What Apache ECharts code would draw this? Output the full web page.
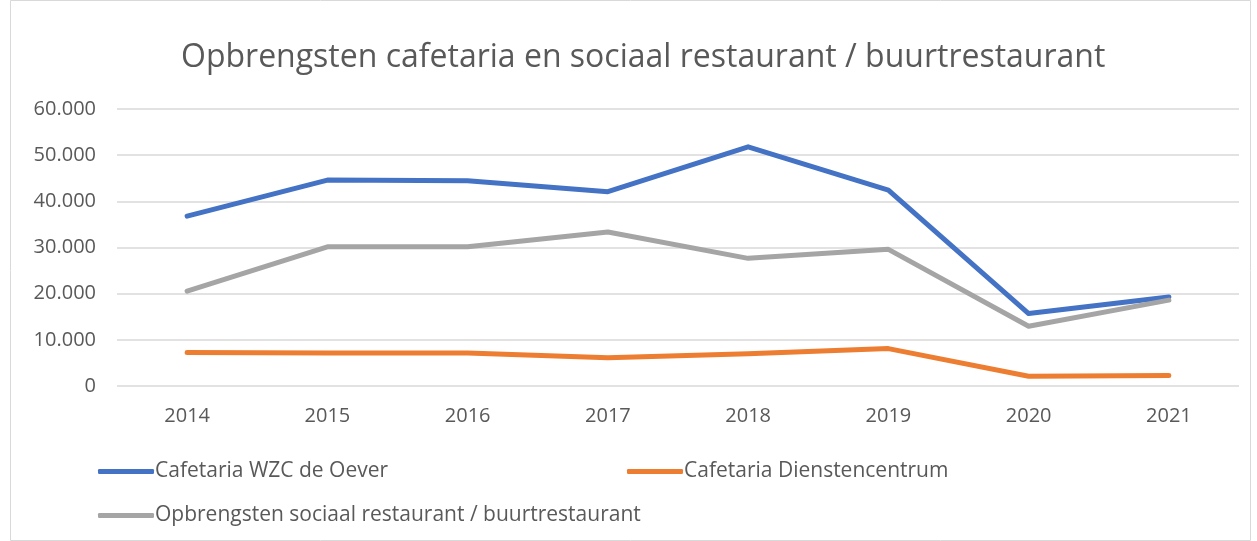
<!DOCTYPE html>
<html><head><meta charset="utf-8">
<script src="https://cdn.jsdelivr.net/npm/echarts@6/dist/echarts.min.js"></script>
<style>html,body{margin:0;padding:0;background:#fff}#c{width:1257px;height:541px}</style>
</head><body><div id="c"></div>
<script>
const years = ['2014','2015','2016','2017','2018','2019','2020','2021'];
const wzcOever = [36800, 44600, 44450, 42100, 51800, 42450, 15700, 19300];
const dienstencentrum = [7250, 7150, 7150, 6100, 7000, 8100, 2100, 2250];
const sociaalRestaurant = [20550, 30150, 30150, 33350, 27650, 29600, 12950, 18600];
const names = ['Cafetaria WZC de Oever', 'Cafetaria Dienstencentrum', 'Opbrengsten sociaal restaurant / buurtrestaurant'];
const colors = ['#4472C4', '#ED7D31', '#A5A5A5'];

const font = 'Open Sans';
const chart = echarts.init(document.getElementById('c'));
const legendCommon = {
  icon: 'roundRect', itemWidth: 56, itemHeight: 5, itemGap: 0,
  textStyle: { fontFamily: font, fontSize: 21, color: '#595959', padding: [0, 0, 0, -4] },
  padding: 0
};
chart.setOption({
  animation: false,
  graphic: [{ type: 'rect', shape: { x: 10.5, y: 0.5, width: 1240, height: 540 }, style: { fill: 'none', stroke: '#d9d9d9', lineWidth: 1 } }],
  title: {
    text: 'Opbrengsten cafetaria en sociaal restaurant / buurtrestaurant',
    left: 176, top: 37,
    textStyle: { fontFamily: font, fontSize: 32, fontWeight: 'normal', color: '#595959' }
  },
  legend: [
    Object.assign({ data: [names[0]], left: 98, top: 461 }, legendCommon),
    Object.assign({ data: [names[1]], left: 627, top: 461 }, legendCommon),
    Object.assign({ data: [names[2]], left: 98, top: 505 }, legendCommon)
  ],
  grid: { left: 117, right: 18, top: 109, bottom: 155 },
  xAxis: {
    type: 'category', data: years, boundaryGap: true,
    axisLine: { show: false }, axisTick: { show: false },
    axisLabel: { fontFamily: font, fontSize: 20, color: '#595959', margin: 20 }
  },
  yAxis: {
    type: 'value', min: 0, max: 60000, interval: 10000,
    axisLabel: {
      fontFamily: font, fontSize: 20, color: '#595959', margin: 21,
      formatter: v => v === 0 ? '0' : (v / 1000).toFixed(0) + '.000'
    },
    splitLine: { lineStyle: { color: '#d9d9d9', width: 1.5 } },
    axisLine: { show: false }, axisTick: { show: false }
  },
  series: [wzcOever, dienstencentrum, sociaalRestaurant].map((d, i) => ({
    name: names[i], type: 'line', data: d, showSymbol: false, symbol: 'none',
    itemStyle: { color: colors[i] },
    lineStyle: { color: colors[i], width: 5, cap: 'round', join: 'round' }
  }))
});
</script></body></html>
